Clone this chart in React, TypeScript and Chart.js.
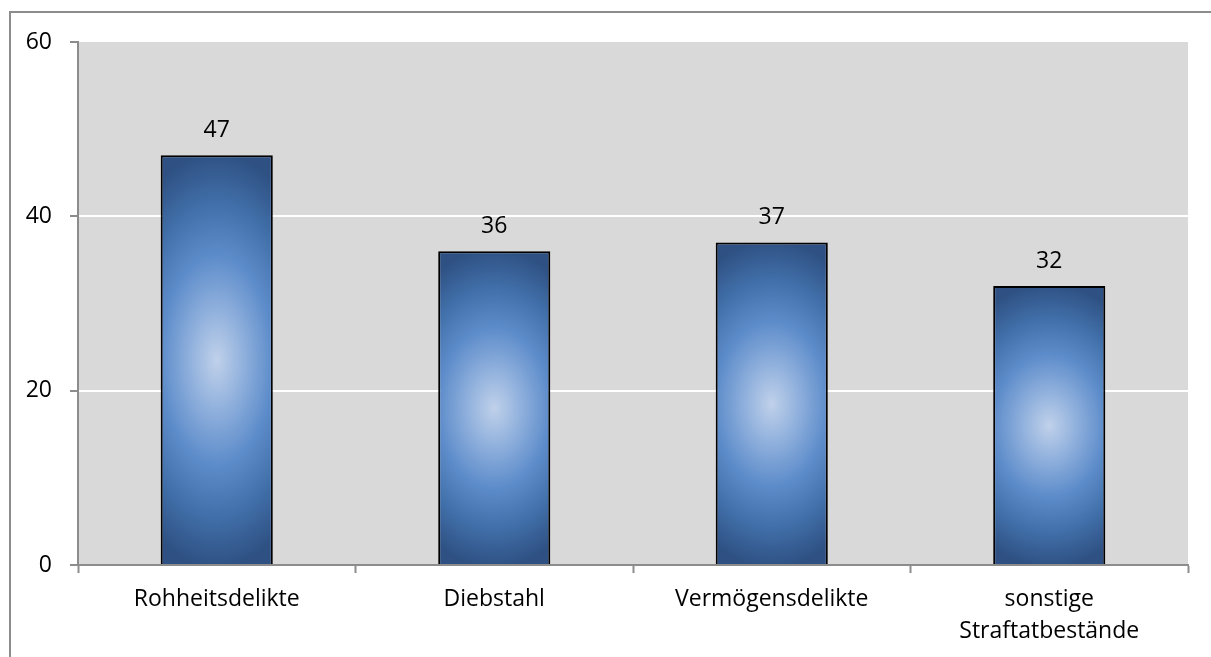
import React, { useEffect, useRef } from "react";
import { Chart, registerables } from "chart.js";

Chart.register(...registerables);

const categories: (string | string[])[] = [
  "Rohheitsdelikte",
  "Diebstahl",
  "Vermögensdelikte",
  ["sonstige", "Straftatbestände"],
];
const values: number[] = [47, 36, 37, 32];
const yTicks: number[] = [0, 20, 40, 60];

const FONT = "'Open Sans', 'Noto Sans', sans-serif";
const FS = 23;
const BAR_PCT = 0.404;

const plotBg = {
  id: "plotBg",
  beforeDraw(chart: any) {
    const { ctx, chartArea } = chart;
    if (!chartArea) return;
    ctx.save();
    ctx.fillStyle = "#d9d9d9";
    ctx.fillRect(chartArea.left, chartArea.top, chartArea.right - chartArea.left, chartArea.bottom - chartArea.top);
    ctx.restore();
  },
};

const valueLabels = {
  id: "valueLabels",
  afterDatasetsDraw(chart: any) {
    const { ctx } = chart;
    const meta = chart.getDatasetMeta(0);
    ctx.save();
    ctx.font = `${FS}px ${FONT}`;
    ctx.fillStyle = "#000";
    ctx.textAlign = "center";
    ctx.textBaseline = "alphabetic";
    meta.data.forEach((el: any, i: number) => {
      ctx.fillText(String(values[i]), el.x, el.y - 18);
    });
    ctx.restore();
  },
};

function barFill(c: any) {
  const chart = c.chart;
  const xs = chart.scales?.x;
  const ys = chart.scales?.y;
  if (!xs || !ys || c.dataIndex === undefined || !chart.width) return "#4f81bd";
  const n = categories.length;
  const cx = xs.getPixelForValue(c.dataIndex);
  const w = (xs.width / n) * BAR_PCT;
  const top = ys.getPixelForValue(values[c.dataIndex]);
  const bottom = ys.getPixelForValue(0);
  const cy = (top + bottom) / 2;
  const h = bottom - top;
  const off = document.createElement("canvas");
  off.width = chart.width;
  off.height = chart.height;
  const o = off.getContext("2d")!;
  o.save();
  o.translate(cx, cy);
  o.scale((w / 2) * 2.0, (h / 2) * 1.02);
  const g = o.createRadialGradient(0, 0, 0, 0, 0, 1);
  g.addColorStop(0, "#c0d1ea");
  g.addColorStop(0.25, "#8eafdc");
  g.addColorStop(0.5, "#5d8cca");
  g.addColorStop(0.75, "#416fa9");
  g.addColorStop(1, "#2e5082");
  o.fillStyle = g;
  o.fillRect(-1.2, -1.2, 2.4, 2.4);
  o.restore();
  return chart.ctx.createPattern(off, "no-repeat");
}

export default function App() {
  const ref = useRef<HTMLCanvasElement>(null);
  useEffect(() => {
    let chart: Chart | null = null;
    let cancelled = false;
    const make = () => {
      if (cancelled || !ref.current) return;
      chart = new Chart(ref.current, {
        type: "bar",
        data: {
          labels: categories as any,
          datasets: [
            {
              data: values,
              backgroundColor: barFill as any,
              borderColor: "#000",
              borderWidth: 2,
              barPercentage: BAR_PCT,
              categoryPercentage: 1,
            },
          ],
        },
        options: {
          animation: false,
          responsive: false,
          events: [],
          layout: { padding: { top: 29, right: 23, left: 0, bottom: 0 } },
          plugins: { legend: { display: false }, tooltip: { enabled: false } },
          scales: {
            x: {
              afterFit: (s: any) => {
                s.height = 92;
                s.paddingLeft = 0;
                s.paddingRight = 0;
              },
              grid: {
                offset: true,
                drawOnChartArea: false,
                tickLength: 8,
                tickColor: "#8c8c8c",
                tickWidth: 2,
              },
              border: { color: "#8c8c8c", width: 2 },
              ticks: {
                color: "#000",
                padding: 10,
                font: { family: FONT, size: FS, lineHeight: 32 / FS },
                maxRotation: 0,
                autoSkip: false,
              },
            },
            y: {
              min: 0,
              max: 60,
              afterFit: (s: any) => {
                s.width = 67;
                s.paddingTop = 0;
                s.paddingBottom = 0;
              },
              afterBuildTicks: (s: any) => {
                s.ticks = yTicks.map((v) => ({ value: v }));
              },
              grid: {
                color: (c: any) => (c.tick && (c.tick.value === 60 || c.tick.value === 0) ? "rgba(0,0,0,0)" : "#ffffff"),
                lineWidth: 2,
                tickLength: 8,
                tickColor: "#8c8c8c",
                tickWidth: 2,
              },
              border: { color: "#8c8c8c", width: 2 },
              ticks: {
                color: "#000",
                padding: 18,
                font: { family: FONT, size: FS },
              },
            },
          },
        },
        plugins: [plotBg, valueLabels],
      });
    };
    const fontsApi = (document as any).fonts;
    if (fontsApi && fontsApi.load) {
      fontsApi.load(`${FS}px 'Open Sans'`).then(make, make);
    } else {
      make();
    }
    return () => {
      cancelled = true;
      if (chart) chart.destroy();
    };
  }, []);

  return (
    <div
      style={{
        position: "absolute",
        left: 9,
        top: 11,
        width: 1202,
        height: 646,
        boxSizing: "border-box",
        borderTop: "2px solid #8c8c8c",
        borderLeft: "2px solid #8c8c8c",
        background: "#fff",
        overflow: "hidden",
      }}
    >
      <canvas ref={ref} width={1200} height={644} style={{ display: "block", width: 1200, height: 644 }} />
    </div>
  );
}
